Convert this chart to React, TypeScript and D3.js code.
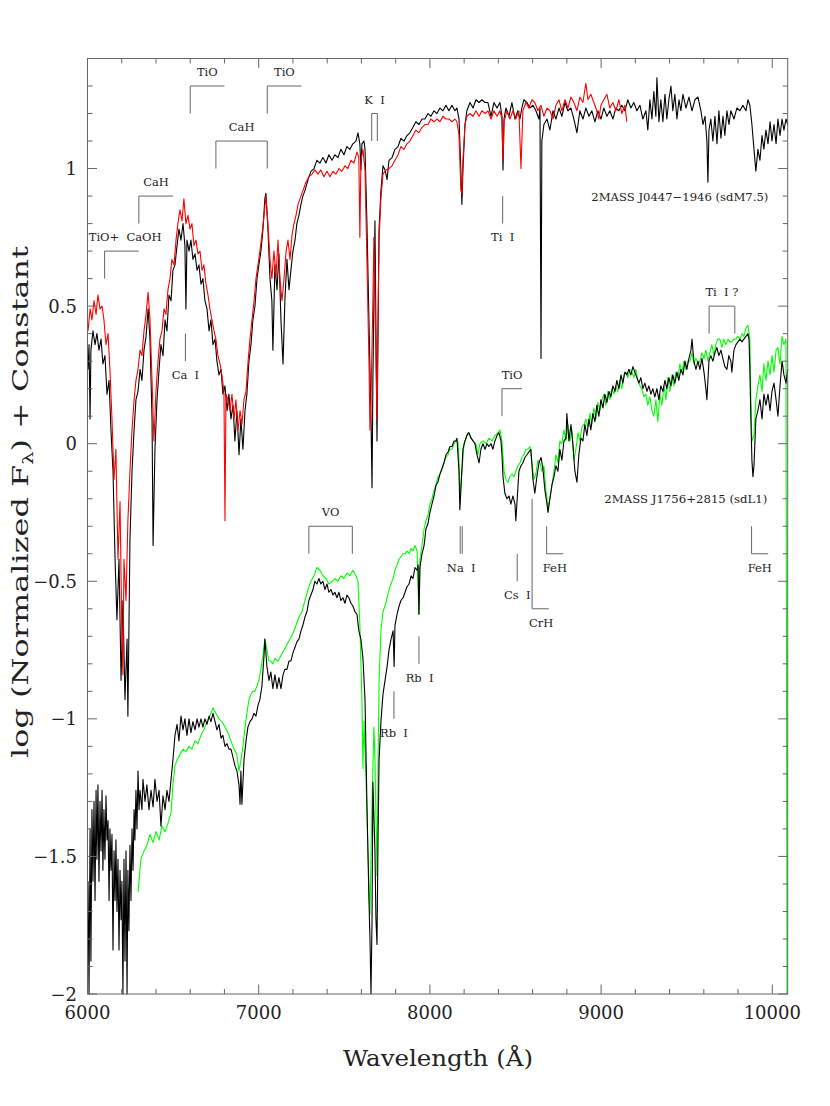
import React from 'react';
import * as d3 from 'd3';

const W = 830;
const H = 1106;
const X_DOMAIN: [number, number] = [6000, 10090];
const Y_DOMAIN: [number, number] = [-2, 1.4];
const X_MAJOR = [6000, 7000, 8000, 9000, 10000];
const Y_MAJOR = [-2, -1.5, -1, -0.5, 0, 0.5, 1];
const Y_LABELS = ['\u22122', '\u22121.5', '\u22121', '\u22120.5', '0', '0.5', '1'];

// 2MASS J0447-1946 (sdM7.5), black, upper
const J0447: [number, number][] = [[6003,0.27],[6009,0.36],[6015,0.09],[6020,0.34],[6032,0.41],[6044,0.36],[6055,0.40],[6067,0.34],[6079,0.38],[6090,0.29],[6102,0.32],[6114,0.18],[6126,0.23],[6137,0.05],[6149,-0.10],[6161,-0.42],[6172,-0.64],[6184,-0.42],[6196,-0.86],[6207,-0.57],[6219,-0.93],[6231,-0.71],[6236,-0.99],[6248,-0.35],[6260,-0.10],[6272,0.05],[6283,0.16],[6295,0.19],[6307,0.27],[6318,0.23],[6330,0.34],[6342,0.39],[6354,0.49],[6365,0.38],[6377,0.09],[6383,-0.37],[6394,-0.02],[6406,0.16],[6418,0.27],[6429,0.36],[6441,0.32],[6453,0.45],[6464,0.41],[6476,0.54],[6488,0.52],[6499,0.63],[6511,0.65],[6523,0.72],[6534,0.78],[6546,0.74],[6558,0.80],[6569,0.72],[6575,0.49],[6581,0.74],[6593,0.70],[6604,0.74],[6616,0.67],[6628,0.69],[6640,0.63],[6651,0.65],[6663,0.58],[6674,0.60],[6686,0.52],[6698,0.49],[6710,0.41],[6721,0.45],[6733,0.36],[6745,0.38],[6756,0.30],[6768,0.25],[6780,0.27],[6791,0.18],[6803,0.21],[6815,0.12],[6826,0.18],[6838,0.09],[6850,0.14],[6861,0.01],[6873,0.12],[6885,-0.04],[6896,0.09],[6908,-0.02],[6920,0.12],[6931,0.18],[6943,0.30],[6955,0.36],[6966,0.45],[6978,0.50],[6990,0.60],[7001,0.65],[7013,0.70],[7025,0.78],[7036,0.89],[7042,0.91],[7054,0.78],[7066,0.60],[7077,0.52],[7083,0.34],[7095,0.65],[7107,0.56],[7118,0.69],[7130,0.45],[7142,0.29],[7153,0.52],[7165,0.67],[7177,0.56],[7188,0.63],[7200,0.70],[7212,0.74],[7223,0.80],[7235,0.83],[7247,0.87],[7258,0.90],[7270,0.92],[7288,0.96],[7305,0.99],[7323,1.00],[7340,1.03],[7358,1.02],[7375,1.04],[7393,1.02],[7410,1.05],[7428,1.03],[7445,1.05],[7463,1.04],[7480,1.07],[7498,1.05],[7515,1.08],[7533,1.07],[7550,1.09],[7568,1.10],[7580,1.13],[7591,1.09],[7597,0.995],[7603,1.09],[7615,1.10],[7621,1.07],[7632,0.81],[7644,0.45],[7656,0.09],[7662,-0.16],[7667,0.23],[7679,0.81],[7685,0.41],[7691,0.01],[7697,0.41],[7703,0.78],[7714,0.92],[7726,1.01],[7738,0.995],[7750,0.96],[7761,1.03],[7779,1.04],[7796,1.07],[7814,1.08],[7831,1.11],[7849,1.10],[7866,1.12],[7883,1.13],[7901,1.15],[7918,1.17],[7936,1.16],[7954,1.18],[7971,1.18],[7989,1.20],[8006,1.19],[8024,1.21],[8041,1.20],[8059,1.22],[8076,1.21],[8094,1.23],[8111,1.21],[8129,1.23],[8146,1.21],[8158,1.22],[8170,1.18],[8181,0.995],[8187,0.87],[8193,0.995],[8205,1.16],[8216,1.21],[8234,1.24],[8252,1.22],[8269,1.25],[8287,1.24],[8304,1.25],[8322,1.24],[8339,1.24],[8357,1.19],[8374,1.24],[8392,1.22],[8409,1.24],[8421,1.19],[8427,0.995],[8433,1.18],[8444,1.22],[8462,1.19],[8479,1.24],[8497,1.18],[8514,1.21],[8526,1.18],[8537,1.22],[8549,1.25],[8567,1.24],[8584,1.22],[8602,1.23],[8619,1.21],[8637,1.18],[8643,1.22],[8649,0.31],[8654,1.10],[8666,1.16],[8684,1.18],[8701,1.14],[8719,1.21],[8736,1.18],[8754,1.22],[8771,1.19],[8789,1.24],[8806,1.21],[8824,1.22],[8841,1.18],[8859,1.13],[8876,1.21],[8894,1.18],[8911,1.22],[8929,1.19],[8946,1.21],[8964,1.17],[8981,1.21],[8999,1.18],[9016,1.22],[9034,1.19],[9051,1.21],[9069,1.18],[9086,1.22],[9104,1.21],[9121,1.23],[9139,1.21],[9156,1.25],[9174,1.22],[9191,1.24],[9209,1.21],[9227,1.23],[9244,1.18],[9262,1.21],[9273,1.14],[9285,1.25],[9297,1.18],[9308,1.28],[9320,1.19],[9326,1.33],[9338,1.17],[9349,1.25],[9361,1.17],[9373,1.27],[9384,1.18],[9396,1.25],[9408,1.30],[9419,1.21],[9431,1.27],[9443,1.18],[9455,1.25],[9466,1.21],[9478,1.27],[9496,1.22],[9513,1.26],[9531,1.21],[9548,1.25],[9566,1.26],[9583,1.21],[9595,1.16],[9607,1.19],[9618,1.10],[9624,0.95],[9630,1.14],[9641,1.18],[9653,1.10],[9665,1.19],[9677,1.09],[9688,1.21],[9700,1.11],[9712,1.19],[9723,1.12],[9735,1.21],[9747,1.16],[9758,1.21],[9776,1.18],[9793,1.22],[9811,1.21],[9828,1.23],[9846,1.21],[9858,1.25],[9869,1.23],[9881,1.16],[9893,1.07],[9904,0.99],[9916,1.07],[9928,1.03],[9940,1.12],[9951,1.07],[9963,1.14],[9975,1.09],[9987,1.17],[9998,1.10],[10010,1.16],[10022,1.09],[10033,1.18],[10045,1.12],[10057,1.18],[10068,1.14],[10080,1.18],[10090,1.16]];

// comparison spectrum, red, upper
const REF_M: [number, number][] = [[6003,0.41],[6015,0.49],[6026,0.45],[6038,0.52],[6050,0.47],[6061,0.54],[6073,0.49],[6085,0.50],[6096,0.45],[6108,0.36],[6120,0.40],[6131,0.27],[6143,0.09],[6155,-0.13],[6166,-0.02],[6178,-0.42],[6190,-0.21],[6201,-0.71],[6207,-0.84],[6213,-0.42],[6225,-0.57],[6236,-0.28],[6248,-0.10],[6260,0.05],[6272,0.16],[6283,0.23],[6295,0.27],[6307,0.34],[6318,0.32],[6330,0.41],[6342,0.47],[6354,0.55],[6365,0.45],[6377,0.23],[6388,0.01],[6400,0.19],[6412,0.30],[6423,0.38],[6435,0.41],[6447,0.49],[6458,0.47],[6470,0.56],[6482,0.60],[6493,0.67],[6505,0.65],[6517,0.74],[6528,0.80],[6540,0.85],[6552,0.81],[6563,0.89],[6575,0.80],[6587,0.83],[6599,0.78],[6610,0.80],[6622,0.72],[6634,0.74],[6645,0.69],[6657,0.70],[6669,0.63],[6680,0.65],[6692,0.58],[6704,0.54],[6715,0.49],[6727,0.45],[6739,0.41],[6750,0.38],[6762,0.32],[6774,0.29],[6785,0.25],[6797,0.19],[6803,-0.28],[6809,0.18],[6820,0.16],[6832,0.12],[6844,0.18],[6856,0.09],[6867,0.16],[6879,0.05],[6891,0.12],[6902,0.07],[6914,0.16],[6926,0.19],[6938,0.30],[6949,0.38],[6961,0.45],[6973,0.52],[6984,0.60],[6996,0.65],[7007,0.70],[7019,0.76],[7031,0.83],[7042,0.90],[7054,0.80],[7066,0.67],[7077,0.60],[7089,0.70],[7101,0.61],[7113,0.74],[7124,0.60],[7136,0.52],[7148,0.60],[7160,0.70],[7171,0.74],[7183,0.67],[7195,0.76],[7206,0.80],[7218,0.83],[7230,0.87],[7241,0.89],[7258,0.92],[7276,0.95],[7293,0.97],[7311,0.98],[7328,0.995],[7346,0.98],[7363,0.995],[7381,0.97],[7399,0.99],[7416,0.97],[7434,0.99],[7451,0.98],[7469,1.00],[7486,0.99],[7504,1.01],[7521,1.00],[7539,1.03],[7556,1.02],[7574,1.06],[7585,1.04],[7591,0.75],[7597,1.03],[7609,1.07],[7621,0.995],[7632,0.67],[7644,0.30],[7650,0.05],[7656,0.16],[7667,0.52],[7673,0.75],[7679,0.52],[7691,0.09],[7697,0.45],[7703,0.74],[7714,0.89],[7726,0.98],[7744,0.995],[7761,1.00],[7779,1.01],[7796,1.03],[7814,1.05],[7831,1.08],[7849,1.07],[7866,1.09],[7883,1.10],[7901,1.12],[7918,1.14],[7936,1.13],[7954,1.15],[7971,1.16],[7989,1.16],[8006,1.18],[8024,1.17],[8041,1.18],[8059,1.17],[8076,1.19],[8094,1.18],[8111,1.18],[8129,1.17],[8146,1.18],[8158,1.17],[8170,1.12],[8181,0.92],[8187,0.91],[8193,1.03],[8205,1.16],[8216,1.19],[8234,1.20],[8252,1.19],[8269,1.21],[8287,1.19],[8304,1.21],[8322,1.20],[8339,1.21],[8357,1.18],[8374,1.21],[8392,1.19],[8409,1.21],[8421,1.18],[8427,1.03],[8433,1.17],[8450,1.21],[8467,1.18],[8485,1.21],[8502,1.18],[8520,1.21],[8532,1.00],[8543,1.21],[8561,1.24],[8578,1.22],[8596,1.25],[8613,1.24],[8631,1.21],[8649,1.23],[8666,1.19],[8684,1.22],[8701,1.21],[8719,1.18],[8736,1.23],[8754,1.25],[8771,1.21],[8789,1.25],[8806,1.22],[8824,1.26],[8841,1.24],[8859,1.21],[8876,1.26],[8894,1.24],[8911,1.31],[8923,1.25],[8940,1.27],[8958,1.24],[8975,1.21],[8987,1.18],[8999,1.23],[9016,1.25],[9034,1.27],[9051,1.22],[9069,1.24],[9086,1.21],[9104,1.25],[9121,1.20],[9139,1.23],[9150,1.17]];

// 2MASS J1756+2815 (sdL1), black, lower
const J1756: [number, number][] = [[6003,-1.59],[6009,-2.0],[6015,-1.40],[6020,-1.88],[6026,-1.33],[6032,-1.59],[6038,-1.30],[6044,-1.66],[6050,-1.26],[6055,-1.51],[6061,-1.24],[6067,-1.59],[6073,-1.30],[6079,-1.48],[6085,-1.26],[6090,-1.55],[6096,-1.33],[6102,-1.51],[6108,-1.28],[6114,-1.44],[6120,-1.37],[6126,-1.66],[6131,-1.40],[6137,-1.55],[6143,-1.42],[6149,-1.84],[6155,-1.48],[6161,-1.66],[6166,-1.44],[6172,-1.70],[6178,-1.51],[6184,-1.84],[6190,-1.55],[6196,-1.73],[6201,-1.59],[6207,-2.0],[6213,-1.51],[6219,-1.88],[6225,-1.48],[6231,-2.0],[6236,-1.55],[6242,-1.77],[6248,-1.46],[6254,-1.66],[6260,-1.40],[6266,-1.55],[6272,-1.33],[6277,-1.44],[6283,-1.26],[6289,-1.40],[6295,-1.19],[6301,-1.33],[6307,-1.26],[6318,-1.33],[6324,-1.22],[6336,-1.30],[6347,-1.24],[6359,-1.33],[6371,-1.26],[6383,-1.32],[6394,-1.22],[6406,-1.30],[6418,-1.26],[6429,-1.39],[6441,-1.28],[6453,-1.33],[6464,-1.26],[6476,-1.30],[6488,-1.22],[6499,-1.15],[6511,-1.06],[6523,-1.02],[6534,-1.08],[6546,-0.99],[6558,-1.04],[6569,-1.00],[6581,-1.06],[6593,-1.00],[6604,-1.05],[6616,-1.01],[6628,-1.04],[6640,-1.00],[6651,-1.03],[6663,-1.00],[6674,-1.03],[6686,-1.00],[6698,-1.02],[6710,-0.99],[6721,-1.01],[6733,-0.98],[6745,-1.01],[6756,-1.04],[6768,-1.02],[6780,-1.07],[6791,-1.06],[6803,-1.10],[6815,-1.09],[6826,-1.11],[6838,-1.11],[6850,-1.14],[6861,-1.17],[6873,-1.19],[6885,-1.24],[6891,-1.31],[6896,-1.19],[6902,-1.31],[6914,-1.15],[6926,-1.08],[6937,-1.03],[6949,-1.01],[6961,-1.00],[6972,-0.98],[6984,-0.99],[6996,-0.95],[7007,-0.93],[7019,-0.88],[7031,-0.77],[7036,-0.71],[7048,-0.81],[7060,-0.86],[7071,-0.83],[7083,-0.89],[7095,-0.84],[7107,-0.89],[7118,-0.85],[7130,-0.89],[7142,-0.84],[7153,-0.82],[7165,-0.82],[7177,-0.79],[7188,-0.79],[7200,-0.76],[7212,-0.74],[7223,-0.72],[7235,-0.71],[7247,-0.68],[7258,-0.66],[7270,-0.63],[7282,-0.61],[7293,-0.57],[7305,-0.55],[7317,-0.53],[7328,-0.50],[7340,-0.51],[7352,-0.49],[7363,-0.51],[7375,-0.50],[7387,-0.53],[7399,-0.51],[7410,-0.54],[7422,-0.53],[7434,-0.55],[7445,-0.54],[7457,-0.56],[7469,-0.54],[7480,-0.57],[7492,-0.56],[7504,-0.58],[7515,-0.55],[7527,-0.56],[7539,-0.58],[7550,-0.59],[7562,-0.61],[7574,-0.62],[7585,-0.68],[7597,-0.71],[7609,-0.78],[7621,-0.93],[7632,-1.30],[7644,-1.66],[7650,-1.80],[7656,-2.0],[7662,-1.73],[7667,-1.23],[7679,-1.48],[7685,-1.73],[7691,-1.82],[7697,-1.44],[7703,-1.15],[7714,-1.01],[7726,-0.91],[7738,-0.86],[7750,-0.81],[7761,-0.75],[7773,-0.71],[7785,-0.68],[7791,-0.81],[7796,-0.66],[7808,-0.62],[7820,-0.59],[7831,-0.57],[7843,-0.56],[7855,-0.54],[7866,-0.52],[7878,-0.51],[7890,-0.48],[7901,-0.49],[7913,-0.45],[7925,-0.46],[7931,-0.44],[7936,-0.62],[7942,-0.45],[7954,-0.40],[7966,-0.37],[7977,-0.31],[7989,-0.29],[8000,-0.25],[8012,-0.22],[8024,-0.19],[8036,-0.15],[8047,-0.14],[8059,-0.11],[8071,-0.09],[8082,-0.07],[8094,-0.04],[8106,-0.03],[8117,-0.01],[8129,-0.01],[8141,0.01],[8152,0.01],[8158,0.02],[8170,-0.10],[8175,-0.24],[8181,-0.17],[8193,-0.02],[8205,0.01],[8216,0.03],[8228,0.04],[8240,0.02],[8252,0.01],[8263,0.00],[8275,-0.04],[8287,-0.07],[8298,-0.02],[8310,0.00],[8322,-0.02],[8334,0.00],[8345,-0.01],[8357,0.00],[8368,-0.02],[8380,0.01],[8392,0.03],[8403,0.04],[8415,0.01],[8421,-0.04],[8427,-0.12],[8438,-0.18],[8450,-0.20],[8462,-0.19],[8473,-0.22],[8485,-0.19],[8497,-0.22],[8502,-0.28],[8508,-0.22],[8520,-0.10],[8532,-0.08],[8543,-0.07],[8555,-0.05],[8567,-0.04],[8578,-0.03],[8590,-0.02],[8602,-0.13],[8613,-0.18],[8625,-0.12],[8637,-0.07],[8649,-0.05],[8660,-0.09],[8672,-0.17],[8684,-0.22],[8690,-0.25],[8701,-0.20],[8713,-0.15],[8725,-0.12],[8736,-0.08],[8748,-0.10],[8759,-0.02],[8771,-0.06],[8783,0.01],[8795,0.02],[8800,0.11],[8812,0.01],[8824,0.07],[8835,0.00],[8847,-0.10],[8859,-0.14],[8870,-0.04],[8882,0.02],[8894,0.01],[8905,0.07],[8917,0.03],[8929,0.09],[8940,0.05],[8952,0.11],[8964,0.08],[8975,0.14],[8987,0.10],[8999,0.16],[9011,0.13],[9022,0.18],[9034,0.15],[9046,0.19],[9057,0.17],[9069,0.21],[9081,0.19],[9092,0.23],[9104,0.20],[9116,0.25],[9127,0.22],[9139,0.26],[9151,0.25],[9162,0.27],[9174,0.25],[9186,0.28],[9197,0.26],[9209,0.24],[9221,0.22],[9232,0.24],[9244,0.20],[9256,0.22],[9268,0.19],[9279,0.21],[9291,0.18],[9302,0.20],[9314,0.17],[9326,0.20],[9337,0.16],[9349,0.21],[9361,0.19],[9373,0.23],[9384,0.20],[9396,0.24],[9408,0.21],[9419,0.25],[9431,0.22],[9443,0.26],[9454,0.23],[9466,0.27],[9478,0.25],[9490,0.30],[9501,0.27],[9513,0.31],[9525,0.34],[9531,0.38],[9542,0.30],[9554,0.27],[9566,0.30],[9577,0.27],[9589,0.31],[9601,0.26],[9612,0.20],[9618,0.16],[9630,0.30],[9641,0.32],[9653,0.30],[9665,0.33],[9676,0.35],[9688,0.32],[9700,0.34],[9711,0.31],[9723,0.28],[9735,0.27],[9746,0.32],[9758,0.30],[9764,0.26],[9776,0.34],[9788,0.36],[9799,0.37],[9811,0.38],[9823,0.37],[9834,0.38],[9846,0.39],[9858,0.40],[9864,0.38],[9869,0.27],[9875,0.09],[9881,-0.06],[9887,-0.12],[9893,-0.08],[9904,0.09],[9916,0.12],[9928,0.16],[9940,0.09],[9951,0.18],[9963,0.14],[9975,0.18],[9987,0.12],[9998,0.19],[10010,0.22],[10022,0.16],[10033,0.10],[10045,0.21],[10057,0.30],[10068,0.25],[10080,0.22],[10090,0.27]];

// comparison spectrum, green, lower
const REF_L: [number, number][] = [[6295,-1.63],[6312,-1.51],[6330,-1.48],[6347,-1.46],[6365,-1.42],[6383,-1.45],[6400,-1.41],[6418,-1.44],[6435,-1.39],[6453,-1.41],[6470,-1.38],[6488,-1.34],[6499,-1.24],[6511,-1.17],[6523,-1.15],[6540,-1.13],[6558,-1.11],[6575,-1.12],[6593,-1.10],[6610,-1.11],[6628,-1.08],[6645,-1.09],[6663,-1.06],[6680,-1.04],[6698,-1.01],[6715,-0.99],[6733,-0.96],[6750,-0.98],[6768,-1.00],[6785,-1.01],[6803,-1.03],[6820,-1.05],[6838,-1.08],[6856,-1.11],[6873,-1.13],[6885,-1.19],[6896,-1.15],[6908,-1.10],[6920,-1.03],[6931,-0.98],[6943,-0.93],[6955,-0.91],[6966,-0.90],[6978,-0.90],[6990,-0.88],[7001,-0.86],[7013,-0.82],[7025,-0.77],[7036,-0.71],[7048,-0.75],[7060,-0.79],[7071,-0.79],[7083,-0.80],[7095,-0.78],[7113,-0.79],[7130,-0.77],[7148,-0.75],[7165,-0.73],[7183,-0.71],[7200,-0.69],[7218,-0.66],[7235,-0.63],[7253,-0.61],[7270,-0.57],[7288,-0.53],[7305,-0.50],[7323,-0.48],[7340,-0.45],[7358,-0.46],[7375,-0.48],[7393,-0.49],[7410,-0.51],[7428,-0.50],[7445,-0.49],[7463,-0.50],[7480,-0.48],[7498,-0.49],[7515,-0.47],[7533,-0.48],[7550,-0.46],[7568,-0.48],[7580,-0.50],[7591,-0.66],[7603,-0.93],[7609,-1.18],[7615,-1.01],[7627,-1.22],[7638,-1.48],[7650,-1.71],[7662,-1.30],[7673,-1.03],[7679,-1.15],[7691,-1.57],[7697,-1.19],[7703,-0.86],[7714,-0.68],[7726,-0.61],[7738,-0.59],[7750,-0.56],[7761,-0.53],[7773,-0.51],[7785,-0.49],[7796,-0.46],[7808,-0.44],[7820,-0.42],[7831,-0.41],[7843,-0.40],[7855,-0.40],[7866,-0.39],[7878,-0.40],[7890,-0.38],[7901,-0.39],[7913,-0.37],[7925,-0.39],[7936,-0.62],[7942,-0.42],[7954,-0.37],[7966,-0.31],[7977,-0.28],[7989,-0.26],[8000,-0.22],[8012,-0.20],[8024,-0.17],[8036,-0.15],[8047,-0.12],[8059,-0.11],[8071,-0.09],[8082,-0.07],[8094,-0.05],[8106,-0.04],[8117,-0.02],[8129,-0.02],[8141,0.00],[8152,0.01],[8164,0.01],[8170,-0.06],[8175,-0.19],[8187,-0.10],[8199,0.00],[8211,0.02],[8222,0.04],[8234,0.03],[8252,0.01],[8269,0.00],[8281,-0.04],[8292,0.00],[8310,0.01],[8328,0.00],[8345,0.02],[8363,0.01],[8380,0.03],[8398,0.04],[8409,0.05],[8421,0.01],[8433,-0.10],[8444,-0.13],[8456,-0.14],[8467,-0.12],[8479,-0.11],[8491,-0.12],[8502,-0.10],[8514,-0.08],[8526,-0.07],[8537,-0.05],[8549,-0.04],[8561,-0.02],[8572,-0.02],[8584,-0.01],[8596,-0.07],[8608,-0.13],[8619,-0.11],[8631,-0.06],[8643,-0.07],[8654,-0.10],[8666,-0.08],[8678,-0.17],[8690,-0.23],[8701,-0.20],[8713,-0.15],[8725,-0.10],[8736,-0.04],[8748,-0.07],[8759,0.01],[8771,0.00],[8783,0.05],[8795,0.01],[8806,0.07],[8818,0.01],[8830,0.05],[8841,-0.06],[8853,-0.02],[8865,0.04],[8876,0.01],[8888,0.06],[8900,0.07],[8911,0.09],[8923,0.06],[8935,0.11],[8946,0.07],[8958,0.13],[8970,0.09],[8981,0.15],[8993,0.12],[9005,0.16],[9016,0.18],[9028,0.14],[9040,0.19],[9051,0.16],[9063,0.20],[9075,0.18],[9086,0.21],[9098,0.19],[9110,0.23],[9121,0.20],[9133,0.25],[9145,0.26],[9156,0.24],[9168,0.27],[9180,0.26],[9191,0.24],[9203,0.27],[9215,0.23],[9227,0.21],[9238,0.20],[9250,0.17],[9262,0.18],[9273,0.14],[9285,0.17],[9297,0.12],[9308,0.10],[9320,0.16],[9332,0.08],[9343,0.18],[9355,0.14],[9367,0.21],[9379,0.16],[9390,0.24],[9402,0.19],[9414,0.25],[9425,0.21],[9437,0.26],[9449,0.24],[9460,0.29],[9472,0.26],[9484,0.30],[9496,0.27],[9507,0.30],[9519,0.30],[9531,0.33],[9542,0.29],[9554,0.31],[9566,0.29],[9577,0.30],[9589,0.33],[9601,0.31],[9612,0.34],[9624,0.30],[9635,0.33],[9647,0.36],[9659,0.32],[9670,0.36],[9682,0.38],[9694,0.38],[9706,0.35],[9717,0.38],[9729,0.36],[9741,0.38],[9752,0.37],[9764,0.37],[9776,0.38],[9788,0.38],[9799,0.39],[9811,0.38],[9823,0.40],[9834,0.39],[9846,0.42],[9858,0.43],[9869,0.38],[9875,0.16],[9881,0.01],[9893,0.03],[9904,0.16],[9916,0.21],[9928,0.25],[9940,0.19],[9951,0.29],[9963,0.23],[9975,0.30],[9987,0.25],[9998,0.32],[10010,0.26],[10022,0.34],[10033,0.35],[10045,0.29],[10057,0.39],[10068,0.36],[10080,0.38],[10086,-2.0]];

// feature markers: polyline in (wavelength, offset) and a label
type Marker = { label: string; path: [number, number][][]; lx: number; ly: number };
const MARKERS: Marker[] = [
  { label: 'TiO', path: [[[6600, 1.2], [6600, 1.3], [6800, 1.3]]], lx: 6700, ly: 1.35 },
  { label: 'TiO', path: [[[7050, 1.2], [7050, 1.3], [7250, 1.3]]], lx: 7150, ly: 1.35 },
  { label: 'CaH', path: [[[6750, 1.0], [6750, 1.1], [7050, 1.1], [7050, 1.0]]], lx: 6900, ly: 1.15 },
  { label: 'CaH', path: [[[6300, 0.8], [6300, 0.9], [6500, 0.9]]], lx: 6400, ly: 0.95 },
  { label: 'TiO+  CaOH', path: [[[6100, 0.6], [6100, 0.7], [6300, 0.7]]], lx: 6220, ly: 0.75 },
  { label: 'Ca  I', path: [[[6572, 0.3], [6572, 0.4]]], lx: 6572, ly: 0.25 },
  { label: 'K  I', path: [[[7660, 1.1], [7660, 1.2], [7693, 1.2], [7693, 1.1]]], lx: 7677, ly: 1.25 },
  { label: 'Ti  I', path: [[[8425, 0.8], [8425, 0.9]]], lx: 8425, ly: 0.75 },
  { label: 'VO', path: [[[7293, -0.4], [7293, -0.3], [7547, -0.3], [7547, -0.4]]], lx: 7420, ly: -0.25 },
  { label: 'TiO', path: [[[8421, 0.1], [8421, 0.2], [8538, 0.2]]], lx: 8480, ly: 0.25 },
  { label: 'Na  I', path: [[[8177, -0.4], [8177, -0.3]], [[8189, -0.4], [8189, -0.3]]], lx: 8183, ly: -0.45 },
  { label: 'Cs  I', path: [[[8510, -0.5], [8510, -0.4]]], lx: 8510, ly: -0.55 },
  { label: 'CrH', path: [[[8597, -0.2], [8597, -0.6], [8695, -0.6]]], lx: 8650, ly: -0.65 },
  { label: 'FeH', path: [[[8682, -0.3], [8682, -0.4], [8779, -0.4]]], lx: 8730, ly: -0.45 },
  { label: 'FeH', path: [[[9879, -0.3], [9879, -0.4], [9976, -0.4]]], lx: 9927, ly: -0.45 },
  { label: 'Ti  I ?', path: [[[9631, 0.4], [9631, 0.5], [9781, 0.5], [9781, 0.4]]], lx: 9706, ly: 0.55 },
  { label: 'Rb  I', path: [[[7936, -0.8], [7936, -0.7]]], lx: 7940, ly: -0.85 },
  { label: 'Rb  I', path: [[[7790, -1.0], [7790, -0.9]]], lx: 7790, ly: -1.05 },
];
const NAMES = [
  { label: '2MASS J0447\u22121946 (sdM7.5)', lx: 9460, ly: 0.895, len: 177 },
  { label: '2MASS J1756+2815 (sdL1)', lx: 9495, ly: -0.2, len: 163 },
];

const M = { left: 87.5, right: 787.7, top: 58.5, bottom: 994 };
const AX = '#666';
const TXT = '#222';
const FONT = "'DejaVu Serif', serif";

export default function App() {
  const x = d3.scaleLinear().domain(X_DOMAIN).range([M.left, M.right]);
  const y = d3.scaleLinear().domain(Y_DOMAIN).range([M.bottom, M.top]);
  const line = d3.line<[number, number]>().x(d => x(d[0])).y(d => y(d[1]));

  const xMinor = d3.range(6000, 10090, 200);
  const yMinor = d3.range(-20, 14).map(v => v / 10);
  const isMajorX = (v: number) => v % 1000 === 0;
  const isMajorY = (v: number) => Math.abs(v * 2 - Math.round(v * 2)) < 1e-6;

  return (
    <div style={{ position: 'absolute', left: 0, top: 0 }}>
      <svg width={W} height={H} xmlns="http://www.w3.org/2000/svg" style={{ display: 'block', background: '#fff' }}>
        <defs>
          <clipPath id="plotclip">
            <rect x={M.left} y={M.top} width={M.right - M.left + 2} height={M.bottom - M.top + 1} />
          </clipPath>
        </defs>
        <g clipPath="url(#plotclip)" fill="none" strokeWidth={1.1} strokeLinejoin="round">
          <path d={line(J0447) || ''} stroke="#000" />
          <path d={line(REF_M) || ''} stroke="#ff0000" />
          <path d={line(REF_L) || ''} stroke="#00ff00" />
          <path d={line(J1756) || ''} stroke="#000" />
        </g>
        {/* frame */}
        <rect x={M.left} y={M.top} width={M.right - M.left} height={M.bottom - M.top} fill="none" stroke={AX} strokeWidth={1} />
        {xMinor.map(v => {
          const len = isMajorX(v) ? 9.5 : 5;
          return (
            <g key={'xt' + v} stroke={AX}>
              <line x1={x(v)} x2={x(v)} y1={M.bottom} y2={M.bottom - len} />
              <line x1={x(v)} x2={x(v)} y1={M.top} y2={M.top + len} />
            </g>
          );
        })}
        {yMinor.map(v => {
          const len = isMajorY(v) ? 9.5 : 5;
          return (
            <g key={'yt' + v} stroke={AX}>
              <line x1={M.left} x2={M.left + len} y1={y(v)} y2={y(v)} />
              <line x1={M.right} x2={M.right - len} y1={y(v)} y2={y(v)} />
            </g>
          );
        })}
        {X_MAJOR.map(v => (
          <text key={'xl' + v} x={x(v)} y={1019} textAnchor="middle" fontFamily={FONT} fontSize={18} fill={TXT}>{v}</text>
        ))}
        {Y_MAJOR.map((v, i) => (
          <text key={'yl' + v} x={77} y={y(v) + 6.5} textAnchor="end" fontFamily={FONT} fontSize={18} fill={TXT}>{Y_LABELS[i]}</text>
        ))}
        <text x={438} y={1066} textAnchor="middle" fontFamily={FONT} fontSize={23} fill={TXT} textLength={190} lengthAdjust="spacingAndGlyphs">Wavelength (Å)</text>
        <text transform="translate(28,502) rotate(-90)" textAnchor="middle" fontFamily={FONT} fontSize={23} fill={TXT} textLength={512} lengthAdjust="spacingAndGlyphs">
          log (Normalized F<tspan fontSize={15} dy={5}>λ</tspan><tspan dy={-5}>) + Constant</tspan>
        </text>
        {/* feature markers */}
        <g stroke={AX} fill="none" strokeWidth={1}>
          {MARKERS.map((m, i) => m.path.map((p, j) => <path key={'m' + i + '_' + j} d={line(p) || ''} />))}
        </g>
        <g fontFamily={FONT} fontSize={11.5} fill={TXT} textAnchor="middle" style={{ whiteSpace: 'pre' }}>
          {MARKERS.map((m, i) => (
            <text key={'ml' + i} x={x(m.lx)} y={y(m.ly)} dominantBaseline="central" xmlSpace="preserve">{m.label}</text>
          ))}
          {NAMES.map((n, i) => (
            <text key={'nm' + i} x={x(n.lx)} y={y(n.ly)} dominantBaseline="central" textLength={n.len} lengthAdjust="spacingAndGlyphs">{n.label}</text>
          ))}
        </g>
      </svg>
    </div>
  );
}
